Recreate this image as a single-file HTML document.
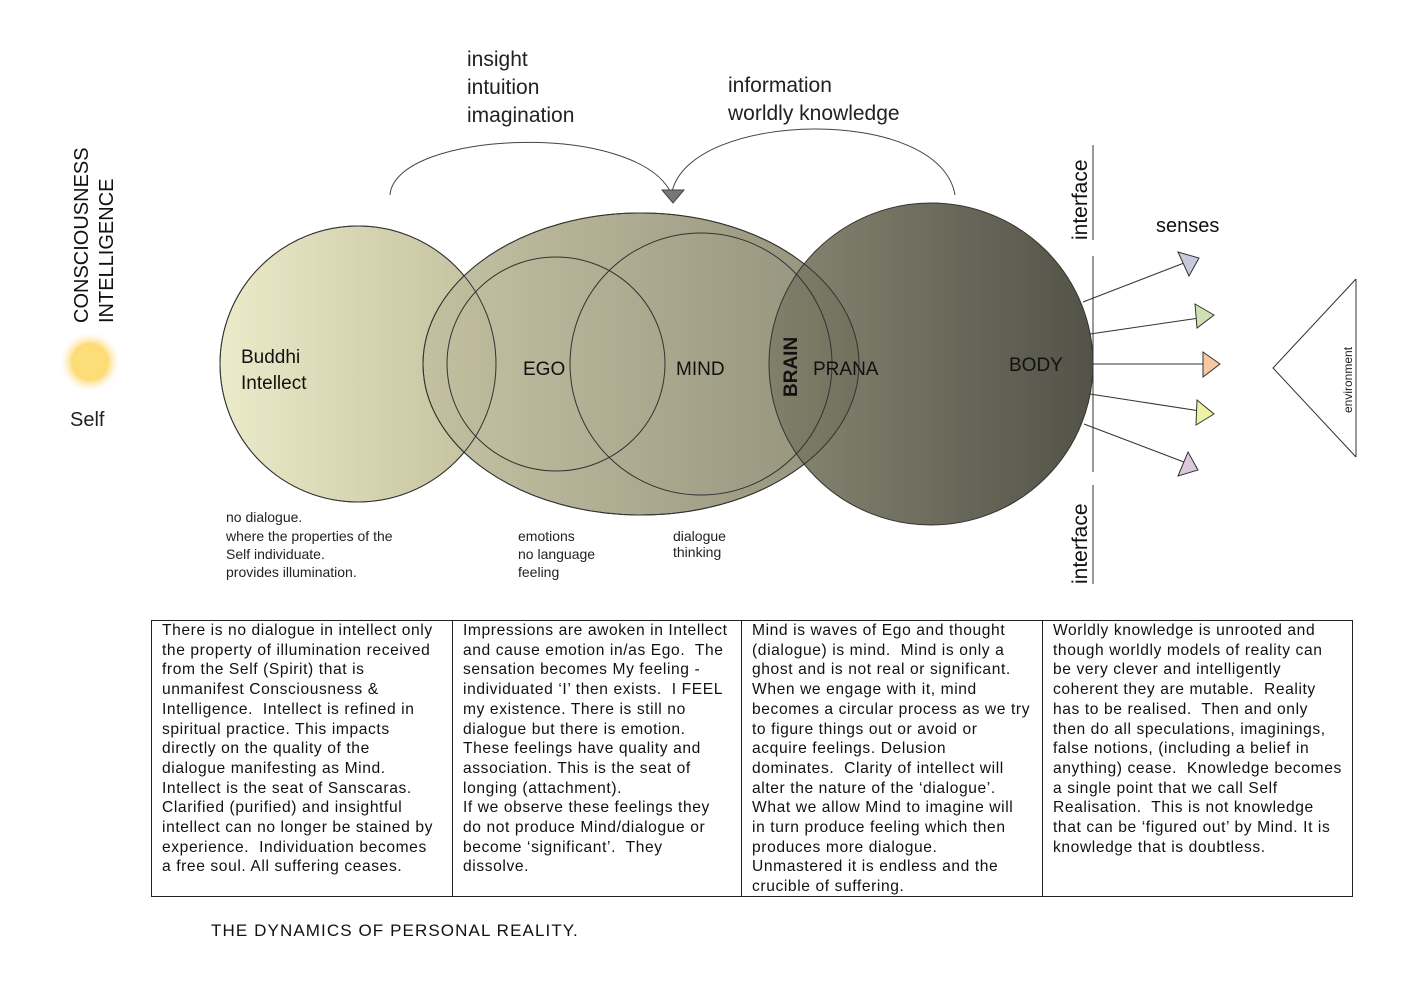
<!DOCTYPE html>
<html><head><meta charset="utf-8"><style>
html,body{margin:0;padding:0;background:#fff;width:1420px;height:1000px;overflow:hidden}
svg{position:absolute;left:0;top:0}
.tbl{position:absolute;left:151px;top:620px;width:1202px;height:277px;border:1px solid #222;box-sizing:border-box;display:flex;font-family:"Liberation Sans",sans-serif;font-size:15.6px;letter-spacing:0.6px;line-height:19.7px;color:#111;white-space:nowrap}
.tbl div{box-sizing:border-box;padding:0 4px 0 10px;height:100%;overflow:hidden}
.tbl div+div{border-left:1px solid #222}
.title{position:absolute;left:211px;top:921px;font-family:"Liberation Sans",sans-serif;font-size:17px;letter-spacing:1.1px;color:#111}
</style></head><body>
<svg width="1420" height="1000" viewBox="0 0 1420 1000" font-family="Liberation Sans, sans-serif">
<defs>
<linearGradient id="g1" x1="0" x2="1" y1="0" y2="0"><stop offset="0" stop-color="#ecebc9"/><stop offset="1" stop-color="#c1bf9c"/></linearGradient>
<linearGradient id="g2" x1="0" x2="1" y1="0" y2="0"><stop offset="0" stop-color="#c3c0a0"/><stop offset="1" stop-color="#8b8a72"/></linearGradient>
<linearGradient id="g3" x1="0" x2="1" y1="0" y2="0"><stop offset="0" stop-color="#7f7e68"/><stop offset="1" stop-color="#45453a"/></linearGradient>
<radialGradient id="sun"><stop offset="0" stop-color="#fbe07a"/><stop offset="0.6" stop-color="#fcdc78"/><stop offset="1" stop-color="#fff3d8" stop-opacity="0"/></radialGradient>
</defs>
<path d="M390,195 C395,130 640,120 672,195" fill="none" stroke="#444" stroke-width="1"/>
<path d="M672,192 C690,110 940,105 955,195" fill="none" stroke="#444" stroke-width="1"/>
<polygon points="662,190 684,190 673,203" fill="#777" stroke="#444"/>
<text x="467" y="66" font-size="21" fill="#222">insight</text>
<text x="467" y="94" font-size="21" fill="#222">intuition</text>
<text x="467" y="122" font-size="21" fill="#222">imagination</text>
<text x="728" y="92" font-size="21" fill="#222">information</text>
<text x="728" y="120" font-size="21" fill="#222">worldly knowledge</text>
<ellipse cx="358" cy="364" rx="138" ry="138" fill="url(#g1)" stroke="#333"/>
<ellipse cx="641" cy="364" rx="218" ry="151" fill="url(#g2)" stroke="#333" fill-opacity="0.95"/>
<ellipse cx="358" cy="364" rx="138" ry="138" fill="none" stroke="#333"/>
<ellipse cx="931" cy="364" rx="162" ry="161" fill="url(#g3)" stroke="#333" fill-opacity="0.93"/>
<ellipse cx="556" cy="364" rx="109" ry="107" fill="none" stroke="#333"/>
<ellipse cx="701" cy="364" rx="131" ry="131" fill="none" stroke="#333"/>
<ellipse cx="641" cy="364" rx="218" ry="151" fill="none" stroke="#333"/>
<text x="241" y="363" font-size="19" fill="#111">Buddhi</text>
<text x="241" y="389" font-size="19" fill="#111">Intellect</text>
<text x="523" y="375" font-size="19" fill="#111">EGO</text>
<text x="676" y="375" font-size="19" fill="#111">MIND</text>
<text x="813" y="375" font-size="19" fill="#111">PRANA</text>
<text x="1009" y="371" font-size="19" fill="#111">BODY</text>
<text transform="translate(797,397) rotate(-90)" font-size="19" font-weight="bold" fill="#111">BRAIN</text>
<g font-size="14" fill="#222">
<text x="226" y="522">no dialogue.</text>
<text x="226" y="541">where the properties of the</text>
<text x="226" y="559">Self individuate.</text>
<text x="226" y="577">provides illumination.</text>
<text x="518" y="541">emotions</text>
<text x="518" y="559">no language</text>
<text x="518" y="577">feeling</text>
<text x="673" y="541">dialogue</text>
<text x="673" y="557">thinking</text>
</g>
<text transform="translate(88,323) rotate(-90)" font-size="20" fill="#111">CONSCIOUSNESS</text>
<text transform="translate(113,323) rotate(-90)" font-size="20" fill="#111">INTELLIGENCE</text>
<circle cx="90" cy="362" r="30" fill="url(#sun)"/>
<text x="70" y="426" font-size="20" fill="#222">Self</text>
<line x1="1093" y1="145" x2="1093" y2="240" stroke="#333"/>
<line x1="1093" y1="256" x2="1093" y2="472" stroke="#333"/>
<line x1="1093" y1="485" x2="1093" y2="584" stroke="#333"/>
<text transform="translate(1087,240) rotate(-90)" font-size="21" fill="#111">interface</text>
<text transform="translate(1087,584) rotate(-90)" font-size="21" fill="#111">interface</text>
<text x="1156" y="232" font-size="20" fill="#111">senses</text>
<g stroke="#333" stroke-width="1">
<line x1="1083" y1="302" x2="1197" y2="258"/>
<line x1="1090" y1="334" x2="1213" y2="316"/>
<line x1="1093" y1="364" x2="1219" y2="364"/>
<line x1="1090" y1="394" x2="1213" y2="413"/>
<line x1="1084" y1="424" x2="1197" y2="467"/>
<polygon points="1178,252 1199,258 1189,276" fill="#c7c9dc"/>
<polygon points="1195,304 1214,315 1197,328" fill="#cfe0b4"/>
<polygon points="1203,352 1220,364 1203,377" fill="#f7c8a4"/>
<polygon points="1197,400 1214,414 1196,425" fill="#eef2a4"/>
<polygon points="1188,452 1198,470 1178,476" fill="#dcc8dc"/>
</g>
<polyline points="1356,279 1273,368 1356,457" fill="none" stroke="#333"/>
<line x1="1356" y1="279" x2="1356" y2="457" stroke="#333"/>
<text transform="translate(1352,413) rotate(-90)" font-size="12" fill="#222">environment</text>
</svg>
<div class="tbl">
<div style="width:300px">There is no dialogue in intellect only<br>the property of illumination received<br>from the Self (Spirit) that is<br>unmanifest Consciousness &amp;<br>Intelligence.&nbsp; Intellect is refined in<br>spiritual practice. This impacts<br>directly on the quality of the<br>dialogue manifesting as Mind.<br>Intellect is the seat of Sanscaras.<br>Clarified (purified) and insightful<br>intellect can no longer be stained by<br>experience.&nbsp; Individuation becomes<br>a free soul. All suffering ceases.</div>
<div style="width:289px">Impressions are awoken in Intellect<br>and cause emotion in/as Ego.&nbsp; The<br>sensation becomes My feeling -<br>individuated ‘I’ then exists.&nbsp; I FEEL<br>my existence. There is still no<br>dialogue but there is emotion.<br>These feelings have quality and<br>association. This is the seat of<br>longing (attachment).<br>If we observe these feelings they<br>do not produce Mind/dialogue or<br>become ‘significant’.&nbsp; They<br>dissolve.</div>
<div style="width:301px">Mind is waves of Ego and thought<br>(dialogue) is mind.&nbsp; Mind is only a<br>ghost and is not real or significant.<br>When we engage with it, mind<br>becomes a circular process as we try<br>to figure things out or avoid or<br>acquire feelings. Delusion<br>dominates.&nbsp; Clarity of intellect will<br>alter the nature of the ‘dialogue’.<br>What we allow Mind to imagine will<br>in turn produce feeling which then<br>produces more dialogue.<br>Unmastered it is endless and the<br>crucible of suffering.</div>
<div style="flex:1">Worldly knowledge is unrooted and<br>though worldly models of reality can<br>be very clever and intelligently<br>coherent they are mutable.&nbsp; Reality<br>has to be realised.&nbsp; Then and only<br>then do all speculations, imaginings,<br>false notions, (including a belief in<br>anything) cease.&nbsp; Knowledge becomes<br>a single point that we call Self<br>Realisation.&nbsp; This is not knowledge<br>that can be ‘figured out’ by Mind. It is<br>knowledge that is doubtless.</div>
</div>
<div class="title">THE DYNAMICS OF PERSONAL REALITY.</div>
</body></html>
